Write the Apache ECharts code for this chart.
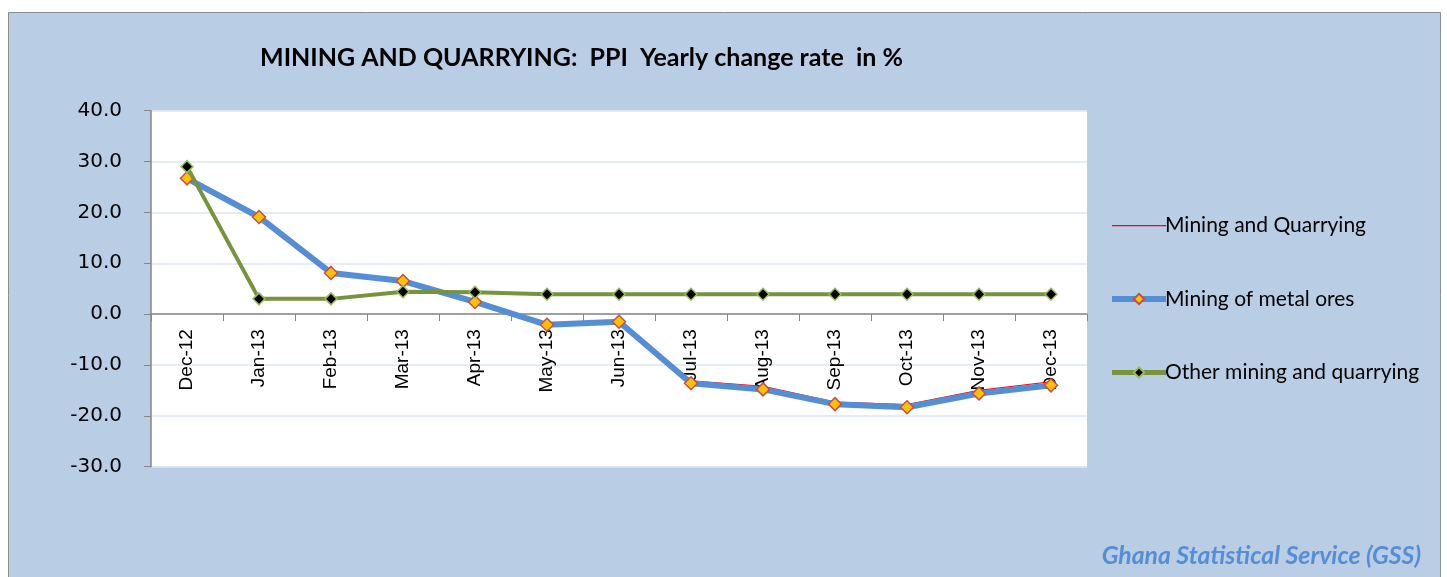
<!DOCTYPE html>
<html lang="en">
<head>
<meta charset="UTF-8">
<title>Mining and Quarrying PPI</title>
<script src="https://cdn.jsdelivr.net/npm/echarts@6/dist/echarts.min.js"></script>
<style>
	html, body { margin: 0; padding: 0; background: #fff; }
	#main { width: 1447px; height: 577px; }
</style>
</head>
<body>
<div id="main"></div>
<script>
// months on the x axis
var months = ['Dec-12', 'Jan-13', 'Feb-13', 'Mar-13', 'Apr-13', 'May-13', 'Jun-13',
	'Jul-13', 'Aug-13', 'Sep-13', 'Oct-13', 'Nov-13', 'Dec-13'];
// yearly change rate in %
var miningQuarrying = [26.5, 18.8, 7.9, 6.3, 2.2, -2.3, -1.7, -13.1, -14.2, -17.3, -17.8, -15.0, -13.3];
var metalOres = [26.7, 19.1, 8.1, 6.5, 2.4, -2.1, -1.5, -13.6, -14.8, -17.7, -18.3, -15.6, -14.0];
var otherMining = [29.0, 3.0, 3.0, 4.4, 4.3, 3.9, 3.9, 3.9, 3.9, 3.9, 3.9, 3.9, 3.9];
var yTicks = { min: -30, max: 40, step: 10 };

var chart = echarts.init(document.getElementById('main'));
var font = 'Lato, "Open Sans", sans-serif';

var gridTop = 110.7, gridBottom = 110.3;
// px from the bottom of the grid up to the zero line
var zeroOffset = (577 - gridTop - gridBottom) * (0 - yTicks.min) / (yTicks.max - yTicks.min);

// thin line icon; the two empty sub paths keep the box 54 x 13 so it is not stretched
var thinLineIcon = 'path://M0,6 L54,6 L54,7.3 L0,7.3 Z M0,0 L0.01,0 Z M0,13 L0.01,13 Z';

var option = {
	animation: false,
	textStyle: { fontFamily: font },
	graphic: [
		{
			type: 'rect',
			z: -10,
			shape: { x: 8.5, y: 12.5, width: 1432, height: 600 },
			style: { fill: '#B9CDE5', stroke: '#8C8C8C', lineWidth: 1 }
		},
		{
			type: 'rect',
			z: -9,
			shape: { x: 151, y: 110.5, width: 936, height: 356 },
			style: { fill: '#FFFFFF' }
		},
		{
			type: 'text',
			right: 26,
			top: 544,
			style: {
				text: 'Ghana Statistical Service (GSS)',
				fill: '#558ED5',
				font: 'italic bold 24.8px ' + font
			}
		}
	],
	title: {
		text: 'MINING AND QUARRYING:  PPI  Yearly change rate  in %',
		left: 255,
		top: 40,
		textStyle: { fontSize: 25, fontWeight: 'bold', color: '#000', fontFamily: font }
	},
	legend: {
		orient: 'vertical',
		left: 1104,
		top: 210,
		itemGap: 52.5,
		itemWidth: 54,
		itemHeight: 13,
		textStyle: { fontSize: 21, color: '#000', fontFamily: font, padding: [0, 0, 0, -6] },
		data: [
			{ name: 'Mining and Quarrying', icon: thinLineIcon, itemStyle: { color: '#FF0000' } },
			{ name: 'Mining of metal ores', lineStyle: { color: '#558ED5', width: 6 } },
			{ name: 'Other mining and quarrying', lineStyle: { color: '#77933C', width: 5 } }
		]
	},
	grid: { left: 151, right: 360, top: gridTop, bottom: gridBottom },
	xAxis: {
		type: 'category',
		data: months,
		boundaryGap: true,
		offset: -zeroOffset,
		axisLine: { onZero: false, lineStyle: { color: '#868686', width: 1.5 } },
		axisTick: { show: true, length: 7, lineStyle: { color: '#868686' } },
		axisLabel: { rotate: 90, margin: 15, fontSize: 19, color: '#000', fontFamily: '"Liberation Sans", Arial, sans-serif' },
		splitLine: { show: false }
	},
	yAxis: {
		type: 'value',
		min: yTicks.min,
		max: yTicks.max,
		interval: yTicks.step,
		axisLine: { show: true, lineStyle: { color: '#868686', width: 1.5 } },
		axisTick: { show: true, length: 7, lineStyle: { color: '#868686' } },
		axisLabel: {
			margin: 29,
			fontSize: 20,
			color: '#000',
			fontFamily: '"DejaVu Sans", Verdana, sans-serif',
			formatter: function (v) { return v.toFixed(1); }
		},
		splitLine: { show: true, lineStyle: { color: '#DCE6F2', width: 1.5 } }
	},
	series: [
		{
			name: 'Mining and Quarrying',
			type: 'line',
			data: miningQuarrying,
			symbol: 'none',
			color: '#FF0000',
			lineStyle: { color: '#FF0000', width: 1.2 },
			z: 2
		},
		{
			name: 'Mining of metal ores',
			type: 'line',
			data: metalOres,
			symbol: 'diamond',
			symbolSize: 13,
			color: '#FFC000',
			itemStyle: { color: '#FFC000', borderColor: '#C0504D', borderWidth: 1.5 },
			lineStyle: { color: '#558ED5', width: 6 },
			z: 3
		},
		{
			name: 'Other mining and quarrying',
			type: 'line',
			data: otherMining,
			symbol: 'diamond',
			symbolSize: 12,
			color: '#000000',
			itemStyle: { color: '#000000', borderColor: '#9BBB59', borderWidth: 1.5 },
			lineStyle: { color: '#77933C', width: 4 },
			z: 4
		}
	]
};

chart.setOption(option);
</script>
</body>
</html>
